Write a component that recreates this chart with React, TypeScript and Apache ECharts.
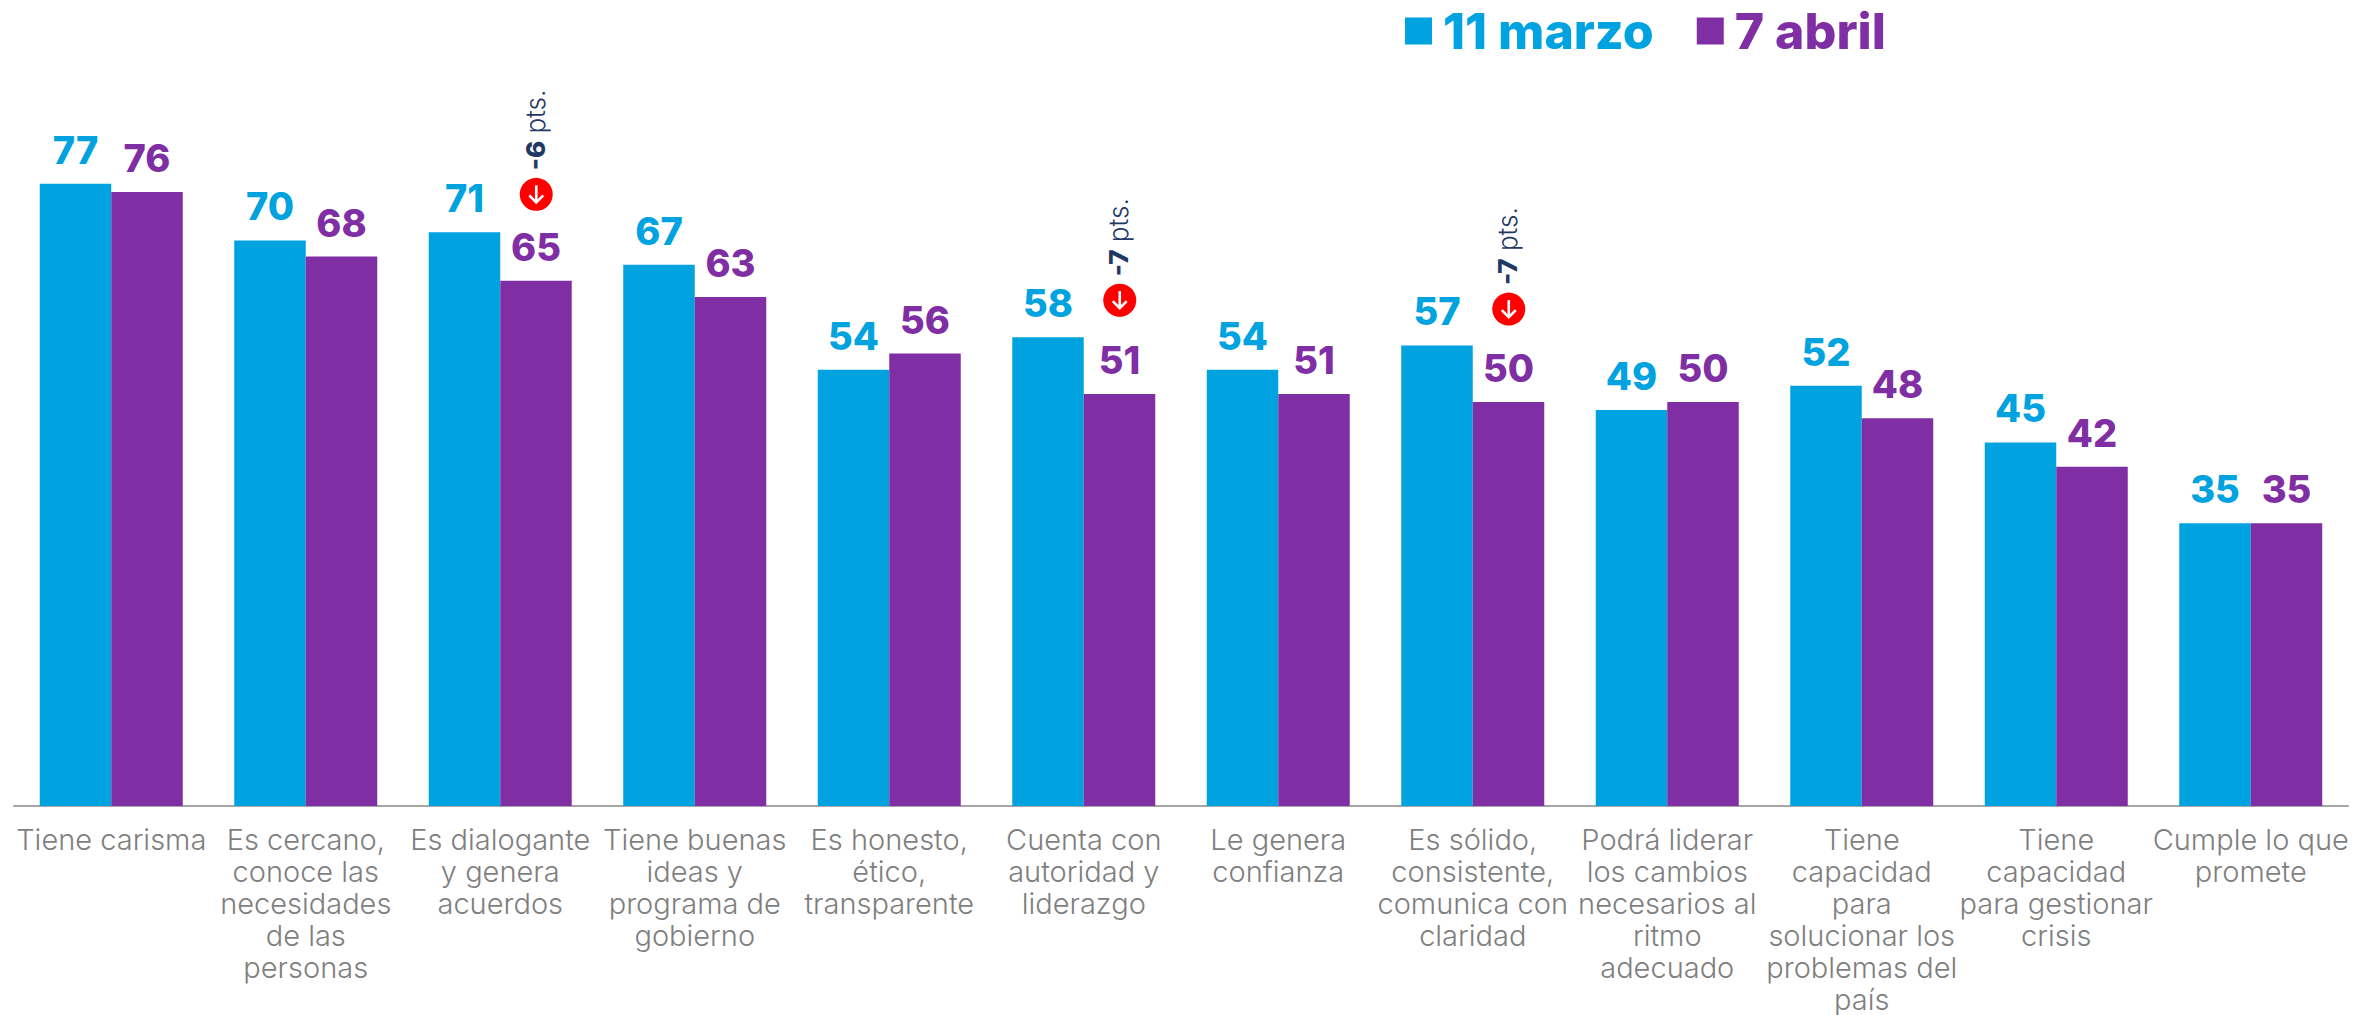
import React, { useEffect, useRef } from "react";
import * as echarts from "echarts";

const categories = [
  "Tiene carisma",
  "Es cercano,\nconoce las\nnecesidades\nde las\npersonas",
  "Es dialogante\ny genera\nacuerdos",
  "Tiene buenas\nideas y\nprograma de\ngobierno",
  "Es honesto,\nético,\ntransparente",
  "Cuenta con\nautoridad y\nliderazgo",
  "Le genera\nconfianza",
  "Es sólido,\nconsistente,\ncomunica con\nclaridad",
  "Podrá liderar\nlos cambios\nnecesarios al\nritmo\nadecuado",
  "Tiene\ncapacidad\npara\nsolucionar los\nproblemas del\npaís",
  "Tiene\ncapacidad\npara gestionar\ncrisis",
  "Cumple lo que\npromete",
];
const marzo = [77, 70, 71, 67, 54, 58, 54, 57, 49, 52, 45, 35];
const abril = [76, 68, 65, 63, 56, 51, 51, 50, 50, 48, 42, 35];
const drops: [number, number, string][] = [
  [2, 75.7, "-6"],
  [5, 62.6, "-7"],
  [7, 61.5, "-7"],
];

const FONT = "Inter";
const BLUE = "#00A3E0";
const PURPLE = "#7F2FA3";
const NAVY = "#1F3864";

export default function App() {
  const ref = useRef<HTMLDivElement>(null);
  useEffect(() => {
    document.body.style.margin = "0";
    document.body.style.overflow = "hidden";
    const chart = echarts.init(ref.current!, undefined, { renderer: "svg" });
    const valueLabel = (color: string) => ({
      show: true,
      position: "top" as const,
      distance: 15,
      color,
      fontFamily: FONT,
      fontWeight: 800,
      fontSize: 38,
    });
    chart.setOption({
      animation: false,
      backgroundColor: "#ffffff",
      grid: { left: 14, right: 5, top: 78.8, height: 727.2, outerBoundsMode: "none", containLabel: false },
      legend: {
        left: 1405,
        top: 6,
        padding: 0,
        itemWidth: 27,
        itemHeight: 27,
        itemGap: 43,
        icon: "rect",
        selectedMode: false,
        textStyle: { fontFamily: FONT, fontWeight: 800, fontSize: 50, padding: [0, 0, 0, 6] },
        data: [
          { name: "11 marzo", textStyle: { color: BLUE } },
          { name: "7 abril", textStyle: { color: PURPLE } },
        ],
      },
      xAxis: {
        type: "category",
        data: categories,
        axisLine: { show: true, lineStyle: { color: "#A6A6A6", width: 2 } },
        axisTick: { show: false },
        axisLabel: {
          interval: 0,
          margin: 17,
          color: "#7F7F7F",
          fontFamily: FONT,
          fontWeight: 300,
          fontSize: 29,
          lineHeight: 32,
          hideOverlap: false,
        },
      },
      yAxis: { type: "value", min: 0, max: 90, show: false, splitLine: { show: false } },
      series: [
        { name: "11 marzo", type: "bar", data: marzo, barWidth: 71.5, barGap: "0%", itemStyle: { color: BLUE }, label: valueLabel(BLUE) },
        { name: "7 abril", type: "bar", data: abril, barWidth: 71.5, barGap: "0%", itemStyle: { color: PURPLE }, label: valueLabel(PURPLE) },
        {
          name: "caída",
          type: "custom",
          silent: true,
          data: drops,
          encode: { x: 0, y: 1 },
          renderItem: (_p: any, api: any) => {
            const [cx0, cy] = api.coord([api.value(0), api.value(1)]);
            const cx = cx0 + 36;
            const label = drops[_p.dataIndex][2];
            return {
              type: "group",
              children: [
                { type: "circle", shape: { cx, cy, r: 16.5 }, style: { fill: "#FF0000" } },
                { type: "line", shape: { x1: cx, y1: cy - 9, x2: cx, y2: cy + 8 }, style: { stroke: "#fff", lineWidth: 2.6 } },
                { type: "polyline", shape: { points: [[cx - 7, cy + 1], [cx, cy + 8], [cx + 7, cy + 1]] }, style: { stroke: "#fff", lineWidth: 2.6, fill: "none" } },
                {
                  type: "text",
                  x: cx - 1,
                  y: cy - 24,
                  rotation: Math.PI / 2,
                  style: {
                    text: `{b|${label}}{r| pts.}`,
                    align: "left",
                    verticalAlign: "middle",
                    rich: {
                      b: { fontFamily: FONT, fontWeight: 800, fontSize: 26, fill: NAVY },
                      r: { fontFamily: FONT, fontWeight: 300, fontSize: 26, fill: NAVY },
                    },
                  },
                },
              ],
            };
          },
        },
      ],
    });
    return () => chart.dispose();
  }, []);
  return <div ref={ref} style={{ width: 2353, height: 1015, position: "absolute", left: 0, top: 0 }} />;
}
